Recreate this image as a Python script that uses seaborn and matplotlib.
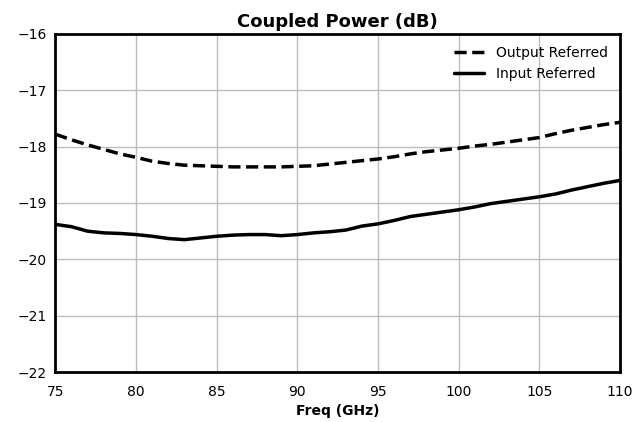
import matplotlib
matplotlib.use("Agg")
import matplotlib.pyplot as plt
import numpy as np
import pandas as pd
import seaborn as sns

freq_ghz = list(range(75, 111))

output_referred = [
    -17.78, -17.88, -17.97, -18.05, -18.13, -18.19, -18.26, -18.30, -18.33, -18.34,
    -18.35, -18.36, -18.36, -18.36, -18.36, -18.35, -18.34, -18.31, -18.28, -18.25,
    -18.22, -18.18, -18.13, -18.09, -18.06, -18.03, -17.99, -17.96, -17.92, -17.88,
    -17.84, -17.77, -17.71, -17.66, -17.61, -17.57,
]

input_referred = [
    -19.38, -19.42, -19.50, -19.53, -19.54, -19.56, -19.59, -19.63, -19.65, -19.62,
    -19.59, -19.57, -19.56, -19.56, -19.58, -19.56, -19.53, -19.51, -19.48, -19.41,
    -19.37, -19.31, -19.24, -19.20, -19.16, -19.12, -19.07, -19.01, -18.97, -18.93,
    -18.89, -18.84, -18.77, -18.71, -18.65, -18.60,
]

sns.set_style("ticks")
plt.rcParams["font.family"] = ["DejaVu Sans"]
plt.rcParams["text.color"] = "black"
plt.rcParams["axes.labelcolor"] = "black"
plt.rcParams["xtick.color"] = "black"
plt.rcParams["ytick.color"] = "black"

df = pd.DataFrame({"freq": freq_ghz, "out": output_referred, "inp": input_referred})

fig, ax = plt.subplots(figsize=(6.36, 4.22), dpi=100)
sns.lineplot(data=df, x="freq", y="out", ax=ax, color="black", lw=2.5,
             linestyle=(0, (3.5, 1.6)), label="Output Referred")
sns.lineplot(data=df, x="freq", y="inp", ax=ax, color="black", lw=2.5,
             label="Input Referred")

ax.set_xlim(75, 110)
ax.set_ylim(-22, -16)
ax.set_xticks(np.arange(75, 111, 5))
ax.set_yticks(np.arange(-22, -15.5, 1))
ax.grid(True, color="#bdbdbd", lw=1)
ax.set_title("Coupled Power (dB)", fontsize=13, fontweight="bold", pad=5, color="black")
ax.set_xlabel("Freq (GHz)", fontsize=10, fontweight="bold", labelpad=4)
ax.set_ylabel("")
ax.tick_params(axis="x", labelsize=10, length=0, pad=9)
ax.tick_params(axis="y", labelsize=10, length=0, pad=6)
for sp in ax.spines.values():
    sp.set_linewidth(2)
    sp.set_color("black")
ax.legend(loc="upper right", frameon=False, fontsize=10, handlelength=2.2,
          labelcolor="black")

fig.subplots_adjust(left=0.087, right=0.975, top=0.92, bottom=0.118)
fig.savefig("out.png", dpi=100)
